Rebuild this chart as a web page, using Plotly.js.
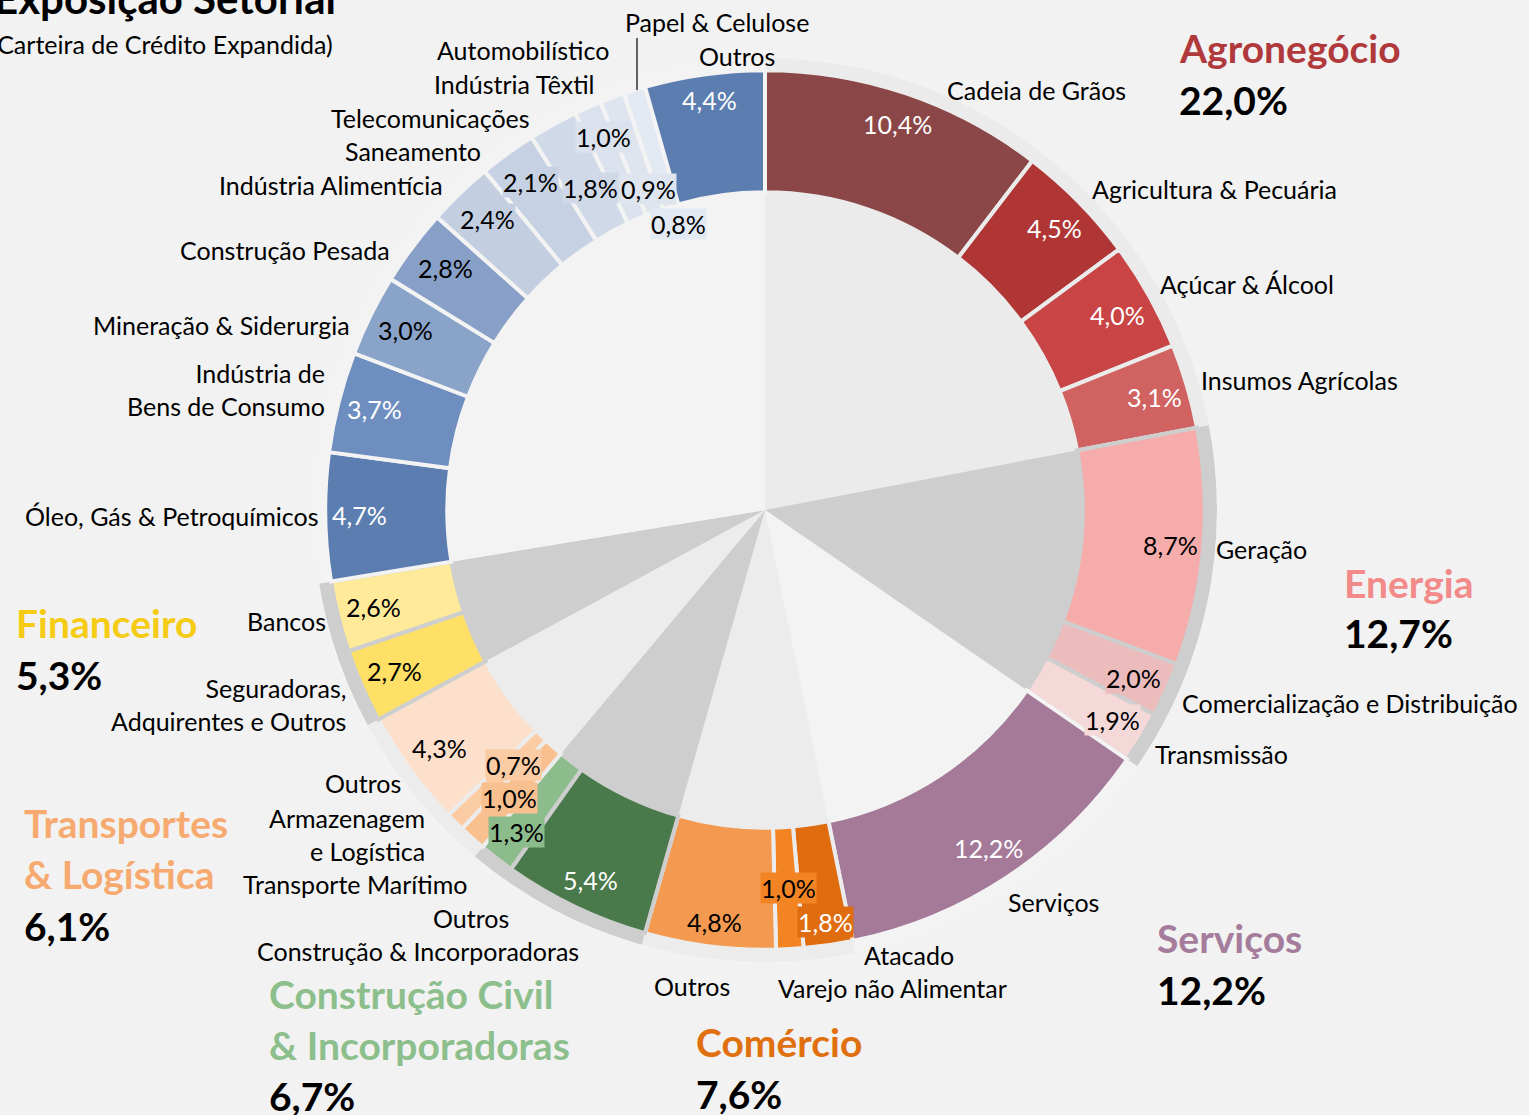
<!DOCTYPE html>
<html><head><meta charset="utf-8">
<script src="https://cdn.plot.ly/plotly-3.0.1.min.js"></script>
<style>html,body{margin:0;padding:0;background:#f2f2f2;}#chart{width:1529px;height:1115px;}</style>
</head><body><div id="chart"></div>
<script>
// ---------------- DATA ----------------
const groupTitles = ['Agronegócio','Energia','Serviços','Comércio','Construção Civil<br>& Incorporadoras','Transportes<br>& Logística','Financeiro'];
const groupShares = [22.0, 12.7, 12.2, 7.6, 6.7, 6.1, 5.3];

const segNames = [
  'Cadeia de Grãos','Agricultura & Pecuária','Açúcar & Álcool','Insumos Agrícolas',
  'Geração','Comercialização e Distribuição','Transmissão',
  'Serviços',
  'Atacado','Varejo não Alimentar','Outros',
  'Construção & Incorporadoras','Outros',
  'Transporte Marítimo','Armazenagem<br>e Logística','Outros',
  'Seguradoras,<br>Adquirentes e Outros','Bancos',
  'Óleo, Gás & Petroquímicos','Indústria de<br>Bens de Consumo','Mineração & Siderurgia','Construção Pesada',
  'Indústria Alimentícia','Saneamento','Telecomunicações','Indústria Têxtil','Automobilístico','Papel & Celulose','Outros'
];
const segValues = [10.4,4.5,4.0,3.1, 8.7,2.0,1.9, 12.2, 1.8,1.0,4.8, 5.4,1.3, 1.0,0.7,4.3, 2.7,2.6,
  4.7,3.7,3.0,2.8,2.4,2.1,1.8,1.0,0.9,0.8,4.4];
const segGroup = [0,0,0,0, 1,1,1, 2, 3,3,3, 4,4, 5,5,5, 6,6, 7,7,7,7,7,7,7,7,7,7,7];

// ---------------- STYLE ----------------
const W = 1529, H = 1115, CX = 765, CY = 510, R = 452;
const FONT = 'Lato, "Open Sans", sans-serif';
const LBL = 25, BIG = 39;
const wedgeColors = ['#ebebeb','#cecece','#f3f3f3','#ececec','#cecece','#ececec','#cecece','#f3f3f3'];
const titleColors = ['#b0393c','#f28a8a','#a57c9b','#e0700f','#8cbf8c','#f7aa70','#f5cb14'];
const segColors = ['#8b4747','#b03535','#c94444','#d06262','#f5acab','#ecbcbc','#f5d8d8','#a47a98',
  '#e06c10','#f28424','#f39a50','#4a7a4b','#8cbc8c','#f9c08f','#fbcba3','#fde0cb','#ffe066','#ffea99',
  '#5b7db0','#6e8ec0','#8aa3c9','#889fc7','#c3cee1','#c6d1e3','#d0d9e8','#dbe2ee','#dee5ef','#e3e9f2','#5c7db0'];
const whiteText = [0,1,2,3,7,8,11,18,19,28];
const boxed = [5,6,8,9,12,13,14,22,23,24,25,26,27];
const pctNudge = [[11,-27],[19,-17],[22,-10],[26,-6],[28,3],[23,13],[23,14],[14,22],[6,37],[2,0],[-3,36],[-11,28],
  [-17,22],[-3,5],[16,-14],[-20,14],[-23,9],[-24,5],[-27,-1],[-23,-8],[-20,-12],[-16,-15],[-15,-18],[-13,-21],
  [8,10],[-9,-26],[15,34],[26,76],[-3,-35]];
const namePos = [[1036,90,'center'],[1090,189,'left'],[1158,284,'left'],[1199,380,'left'],[1214,549,'left'],
  [1180,703,'left'],[1153,754,'left'],[1006,902,'left'],[862,955,'left'],[776,988,'left'],[692,986,'center'],
  [581,951,'right'],[511,918,'right'],[469,884,'right'],[427,834,'right'],[403,783,'right'],[348,704,'right'],
  [328,621,'right'],[321,516,'right'],[327,389,'right'],[352,325,'right'],[392,250,'right'],[445,185,'right'],
  [483,151,'right'],[532,118,'right'],[596,84,'right'],[611,50,'right'],[717,22,'center'],[737,56,'center']];
const titlePos = [[1177,48,1177,100],[1342,583,1342,633],[1155,938,1155,990],[694,1042,694,1094],
  [267,1019,267,1096],[22,848,22,926],[14,623,14,675]];

const fmt = v => v.toFixed(1).replace('.', ',') + '%';
const px = x => x / W, py = y => 1 - y / H;

// ---------------- GEOMETRY FROM DATA ----------------
const segTheta = [], segWidth = [];
let cum = 0;
segValues.forEach(v => { segTheta.push((cum + v / 2) * 3.6); segWidth.push(v * 3.6); cum += v; });
const total = cum;
const nG = wedgeColors.length;
const gStart = new Array(nG).fill(null), gSum = new Array(nG).fill(0);
cum = 0;
segValues.forEach((v, i) => { const g = segGroup[i]; if (gStart[g] === null) gStart[g] = cum; gSum[g] += v; cum += v; });
const gTheta = gSum.map((s, g) => (gStart[g] + s / 2) * 3.6 * 100 / total);
const gWidth = gSum.map(s => s * 3.6 * 100 / total);

const traces = [
  { type: 'barpolar', theta: gTheta, width: gWidth, r: gSum.map(() => 1), base: gSum.map(() => 0),
    marker: { color: wedgeColors, line: { width: 0 } }, hoverinfo: 'skip' },
  { type: 'barpolar', theta: segTheta, width: segWidth, r: segValues.map(() => 0.27), base: segValues.map(() => 0.703),
    marker: { color: segColors, line: { color: segGroup.map(g => wedgeColors[g]), width: 4 } }, hoverinfo: 'skip' }
];

const annotations = [];
// percentage labels
segValues.forEach((v, i) => {
  const a = segTheta[i] * Math.PI / 180, rl = 379;
  const x = CX + rl * Math.sin(a), y = CY - rl * Math.cos(a);
  const ann = { xref: 'paper', yref: 'paper', x: px(x), y: py(y), xanchor: 'center', yanchor: 'middle',
    xshift: pctNudge[i][0], yshift: -pctNudge[i][1], showarrow: false, text: fmt(v),
    font: { family: FONT, size: LBL, color: whiteText.includes(i) ? '#ffffff' : '#000000' } };
  if (boxed.includes(i)) { ann.bgcolor = segColors[i]; ann.borderpad = 0; }
  annotations.push(ann);
});
// sector names
segNames.forEach((n, i) => {
  const p = namePos[i];
  annotations.push({ xref: 'paper', yref: 'paper', x: px(p[0]), y: py(p[1]), xanchor: p[2], yanchor: 'middle',
    align: p[2], showarrow: false, text: n, font: { family: FONT, size: LBL, color: '#000000' } });
});
// group titles
groupTitles.forEach((t, g) => {
  const p = titlePos[g];
  annotations.push({ xref: 'paper', yref: 'paper', x: px(p[0]), y: py(p[1]), xanchor: 'left', yanchor: 'middle',
    align: 'left', showarrow: false, text: '<b>' + t + '</b>', font: { family: FONT, size: BIG, color: titleColors[g] } });
  annotations.push({ xref: 'paper', yref: 'paper', x: px(p[2]), y: py(p[3]), xanchor: 'left', yanchor: 'middle',
    showarrow: false, text: '<b>' + fmt(groupShares[g]) + '</b>', font: { family: FONT, size: BIG, color: '#000000' } });
});
// chart title
annotations.push({ xref: 'paper', yref: 'paper', x: px(-8), y: py(-2), xanchor: 'left', yanchor: 'middle',
  showarrow: false, text: '<b>Exposição Setorial</b>', font: { family: FONT, size: 42, color: '#000000' } });
annotations.push({ xref: 'paper', yref: 'paper', x: px(-11), y: py(44), xanchor: 'left', yanchor: 'middle',
  showarrow: false, text: '(Carteira de Crédito Expandida)', font: { family: FONT, size: LBL, color: '#000000' } });

const layout = {
  width: W, height: H, margin: { l: 0, r: 0, t: 0, b: 0 },
  paper_bgcolor: '#f2f2f2', plot_bgcolor: '#f2f2f2', showlegend: false,
  polar: {
    domain: { x: [px(CX - R), px(CX + R)], y: [py(CY + R), py(CY - R)] },
    bgcolor: 'rgba(0,0,0,0)', barmode: 'overlay', hole: 0,
    radialaxis: { visible: false, range: [0, 1], showgrid: false },
    angularaxis: { visible: false, rotation: 90, direction: 'clockwise', showgrid: false }
  },
  shapes: [{ type: 'line', xref: 'paper', yref: 'paper', x0: px(637), x1: px(637), y0: py(38), y1: py(90),
    line: { color: '#000000', width: 1.2 } }],
  annotations: annotations
};

Plotly.newPlot('chart', traces, layout, { staticPlot: true, displayModeBar: false });
</script></body></html>
